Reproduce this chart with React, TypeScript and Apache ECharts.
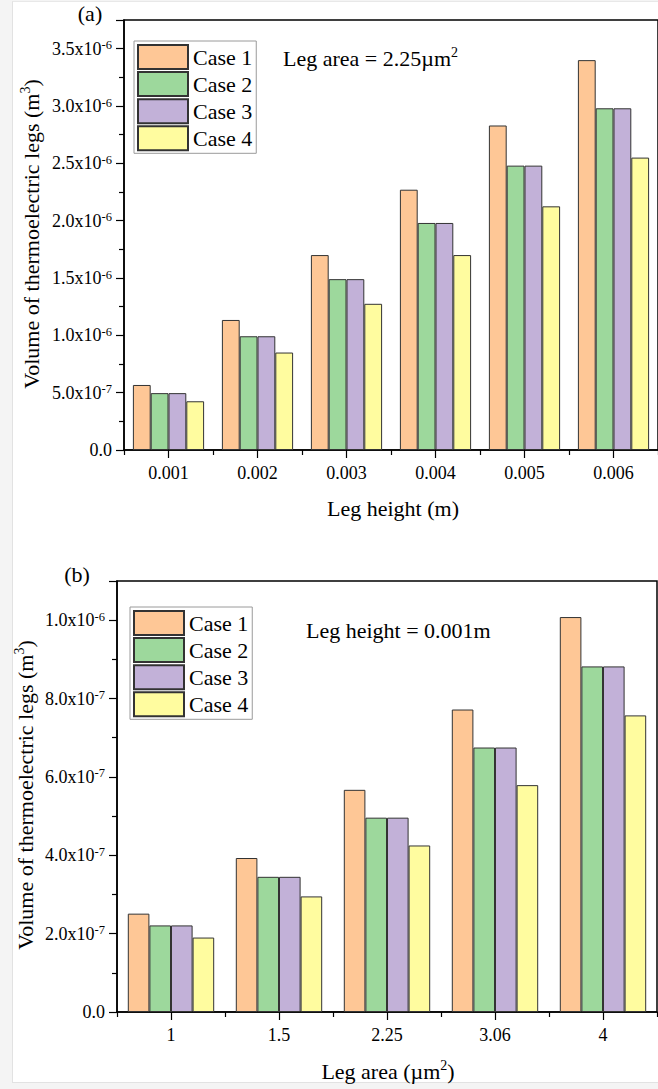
import React, { useEffect, useRef } from "react";
import * as echarts from "echarts";

// Leg heights (m) for panel (a) and leg areas (µm²) for panel (b)
const heightCats = ["0.001", "0.002", "0.003", "0.004", "0.005", "0.006"];
const areaCats = ["1", "1.5", "2.25", "3.06", "4"];
const caseNames = ["Case 1", "Case 2", "Case 3", "Case 4"];

// Volume of thermoelectric legs (m³) vs leg height, leg area = 2.25 µm²
const volByHeightCase1 = [5.67e-7, 1.134e-6, 1.7e-6, 2.27e-6, 2.83e-6, 3.4e-6];
const volByHeightCase2 = [4.96e-7, 9.92e-7, 1.49e-6, 1.98e-6, 2.48e-6, 2.98e-6];
const volByHeightCase3 = [4.96e-7, 9.92e-7, 1.49e-6, 1.98e-6, 2.48e-6, 2.98e-6];
const volByHeightCase4 = [4.25e-7, 8.5e-7, 1.275e-6, 1.7e-6, 2.125e-6, 2.55e-6];

// Volume of thermoelectric legs (m³) vs leg area, leg height = 0.001 m
const volByAreaCase1 = [2.51e-7, 3.93e-7, 5.67e-7, 7.72e-7, 1.008e-6];
const volByAreaCase2 = [2.21e-7, 3.45e-7, 4.96e-7, 6.75e-7, 8.82e-7];
const volByAreaCase3 = [2.21e-7, 3.45e-7, 4.96e-7, 6.75e-7, 8.82e-7];
const volByAreaCase4 = [1.9e-7, 2.95e-7, 4.25e-7, 5.79e-7, 7.57e-7];

const caseColors = ["#FEC796", "#9DD89C", "#C2B1D8", "#FFFC9F"];
const SERIF = "'Liberation Serif', 'Times New Roman', serif";

function sciLabel(step: number) {
  return (v: number) => {
    const k = v / step;
    if (Math.abs(k - Math.round(k)) > 1e-6) return "";
    if (Math.abs(v) < 1e-15) return "{b|0.0}";
    let e = Math.floor(Math.log10(v));
    let m = v / Math.pow(10, e);
    if (Math.round(m * 10) / 10 >= 10) {
      e += 1;
      m /= 10;
    }
    return `{b|${m.toFixed(1)}x10}{s|${e}}`;
  };
}

const labelRich = {
  b: { fontSize: 18, fontFamily: SERIF, color: "#000", lineHeight: 20 },
  s: { fontSize: 12.5, fontFamily: SERIF, color: "#000", verticalAlign: "top", lineHeight: 12 },
};

const titleRich = {
  b: { fontSize: 22, fontFamily: SERIF, fill: "#000", lineHeight: 26 },
  s: { fontSize: 14, fontFamily: SERIF, fill: "#000", verticalAlign: "top", lineHeight: 14 },
};

function yAxisFor(gridIndex: number, max: number, step: number) {
  return {
    type: "value",
    gridIndex,
    min: 0,
    max,
    interval: step,
    splitLine: { show: false },
    axisLine: { show: true, lineStyle: { color: "#000", width: 1.5 } },
    axisTick: { show: true, length: 8, lineStyle: { color: "#000", width: 1.2 } },
    minorTick: { show: true, splitNumber: 2, length: 5, lineStyle: { color: "#000", width: 1.2 } },
    axisLabel: { formatter: sciLabel(step), rich: labelRich, margin: 12 },
  };
}

function xAxesFor(gridIndex: number, data: string[]) {
  return [
    {
      type: "category",
      gridIndex,
      data,
      axisLine: { show: true, lineStyle: { color: "#000", width: 1.5 } },
      axisTick: { show: true, alignWithLabel: true, length: 8, lineStyle: { color: "#000", width: 1.2 } },
      axisLabel: { fontSize: 18, fontFamily: SERIF, color: "#000", margin: 14 },
    },
    {
      // short ticks on the category boundaries
      type: "category",
      gridIndex,
      data,
      position: "bottom",
      axisLine: { show: false },
      axisTick: { show: true, alignWithLabel: false, length: 5, lineStyle: { color: "#000", width: 1.2 } },
      axisLabel: { show: false },
    },
  ];
}

function barSeries(name: string, data: number[], color: string, axisIdx: number) {
  return {
    type: "bar",
    name,
    data,
    xAxisIndex: axisIdx,
    yAxisIndex: axisIdx / 2,
    barGap: "0%",
    barCategoryGap: "20%",
    itemStyle: { color, borderColor: "#333", borderWidth: 1 },
  };
}

function legendAt(left: number, top: number) {
  return {
    data: caseNames,
    orient: "vertical",
    left,
    top,
    icon: "rect",
    itemWidth: 50,
    itemHeight: 24,
    itemGap: 1.1,
    padding: [3, 4, 2, 3],
    backgroundColor: "#fff",
    borderColor: "#9a9a9a",
    borderWidth: 1,
    borderRadius: 0,
    selectedMode: false,
    textStyle: { fontSize: 22, fontFamily: SERIF, color: "#000", lineHeight: 24, padding: [0, 0, 0, 0] },
  };
}

function textEl(x: number, y: number, text: string, align = "center", rotation = 0) {
  return {
    type: "text",
    x,
    y,
    rotation,
    style: {
      text,
      rich: titleRich,
      textAlign: align,
      textVerticalAlign: "middle",
      fill: "#000",
      fontFamily: SERIF,
      fontSize: 22,
    },
  };
}

export default function App() {
  const ref = useRef<HTMLDivElement>(null);

  useEffect(() => {
    if (!ref.current) return;
    const chart = echarts.init(ref.current, undefined, { renderer: "svg" });
    const aCases = [volByHeightCase1, volByHeightCase2, volByHeightCase3, volByHeightCase4];
    const bCases = [volByAreaCase1, volByAreaCase2, volByAreaCase3, volByAreaCase4];
    const gridStyle = { show: true, borderColor: "#000", borderWidth: 1.5, backgroundColor: "transparent" };

    chart.setOption({
      animation: false,
      grid: [
        { left: 124, top: 20, width: 540, height: 430, ...gridStyle },
        { left: 117, top: 581, width: 540, height: 431, ...gridStyle },
      ],
      xAxis: [...xAxesFor(0, heightCats), ...xAxesFor(1, areaCats)],
      yAxis: [yAxisFor(0, 3.75e-6, 5e-7), yAxisFor(1, 1.1e-6, 2e-7)],
      legend: [legendAt(134, 41), legendAt(130, 607)],
      series: [
        ...aCases.map((d, i) => barSeries(caseNames[i], d, caseColors[i], 0)),
        ...bCases.map((d, i) => barSeries(caseNames[i], d, caseColors[i], 2)),
      ],
      graphic: [
        textEl(90, 13, "{b|(a)}"),
        textEl(77, 574, "{b|(b)}"),
        textEl(283, 58, "{b|Leg area = 2.25µm}{s|2}", "left"),
        textEl(306, 630, "{b|Leg height = 0.001m}", "left"),
        textEl(31, 234, "{b|Volume of thermoelectric legs (m}{s|3}{b|)}", "center", Math.PI / 2),
        textEl(25, 795, "{b|Volume of thermoelectric legs (m}{s|3}{b|)}", "center", Math.PI / 2),
        textEl(393, 508, "{b|Leg height (m)}"),
        textEl(388, 1071, "{b|Leg area (µm}{s|2}{b|)}"),
      ],
    });
    return () => chart.dispose();
  }, []);

  return (
    <div style={{ position: "absolute", left: 0, top: 0, width: 658, height: 1089, background: "#f4f4f4", overflow: "hidden" }}>
      <div
        style={{
          position: "absolute",
          left: 12,
          top: 1,
          width: 646,
          height: 1082,
          background: "#fff",
          borderLeft: "1px solid #e2e2e2",
          borderTop: "1px solid #e8e8e8",
          borderBottom: "1px solid #e2e2e2",
          boxSizing: "border-box",
        }}
      />
      <div ref={ref} style={{ position: "absolute", left: 0, top: 0, width: 658, height: 1089 }} />
    </div>
  );
}
